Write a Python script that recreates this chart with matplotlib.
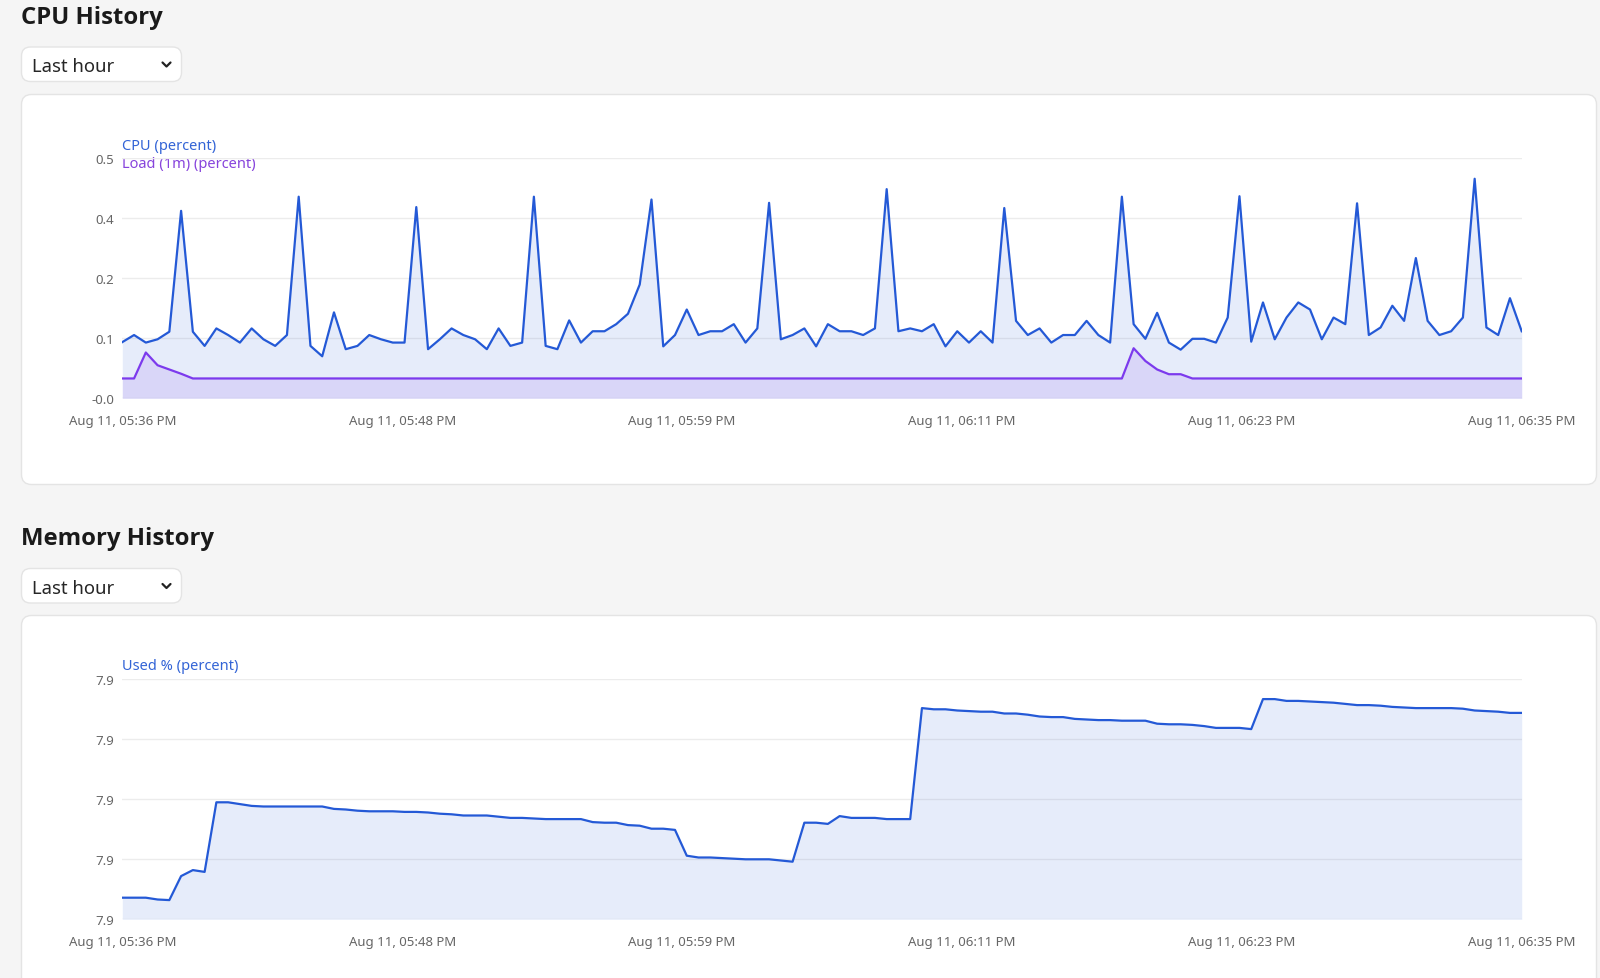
import numpy as np
import matplotlib
matplotlib.use('Agg')
import matplotlib.pyplot as plt
from matplotlib.patches import FancyBboxPatch
from matplotlib.ticker import FormatStrFormatter

plt.rcParams['font.family'] = ['Noto Sans', 'DejaVu Sans']

# ---- data (one sample every ~30 s) ----
time_labels = ['Aug 11, 05:36 PM', 'Aug 11, 05:48 PM', 'Aug 11, 05:59 PM',
               'Aug 11, 06:11 PM', 'Aug 11, 06:23 PM', 'Aug 11, 06:35 PM']

cpu_pct = [
    0.109, 0.124, 0.108, 0.115, 0.131, 0.387, 0.131, 0.101, 0.138, 0.124,
    0.108, 0.138, 0.115, 0.101, 0.124, 0.417, 0.101, 0.079, 0.172, 0.094,
    0.101, 0.124, 0.115, 0.108, 0.108, 0.395, 0.094, 0.115, 0.138, 0.124,
    0.115, 0.094, 0.138, 0.101, 0.108, 0.417, 0.101, 0.094, 0.155, 0.108,
    0.132, 0.132, 0.147, 0.169, 0.231, 0.411, 0.100, 0.124, 0.178, 0.124,
    0.132, 0.132, 0.147, 0.108, 0.138, 0.404, 0.115, 0.124, 0.138, 0.100,
    0.147, 0.132, 0.132, 0.124, 0.138, 0.433, 0.132, 0.138, 0.132, 0.147,
    0.100, 0.132, 0.108, 0.132, 0.108, 0.393, 0.154, 0.124, 0.138, 0.108,
    0.124, 0.124, 0.154, 0.124, 0.108, 0.417, 0.147, 0.116, 0.171, 0.108,
    0.093, 0.116, 0.116, 0.108, 0.161, 0.418, 0.110, 0.193, 0.115, 0.161,
    0.193, 0.178, 0.115, 0.161, 0.147, 0.403, 0.124, 0.140, 0.186, 0.154,
    0.287, 0.154, 0.124, 0.132, 0.161, 0.455, 0.140, 0.124, 0.202, 0.132,
]

load_pct = [
    0.032, 0.032, 0.087, 0.060, 0.051, 0.042, 0.032, 0.032, 0.032, 0.032,
    0.032, 0.032, 0.032, 0.032, 0.032, 0.032, 0.032, 0.032, 0.032, 0.032,
    0.032, 0.032, 0.032, 0.032, 0.032, 0.032, 0.032, 0.032, 0.032, 0.032,
    0.032, 0.032, 0.032, 0.032, 0.032, 0.032, 0.032, 0.032, 0.032, 0.032,
    0.032, 0.032, 0.032, 0.032, 0.032, 0.032, 0.032, 0.032, 0.032, 0.032,
    0.032, 0.032, 0.032, 0.032, 0.032, 0.032, 0.032, 0.032, 0.032, 0.032,
    0.032, 0.032, 0.032, 0.032, 0.032, 0.032, 0.032, 0.032, 0.032, 0.032,
    0.032, 0.032, 0.032, 0.032, 0.032, 0.032, 0.032, 0.032, 0.032, 0.032,
    0.032, 0.032, 0.032, 0.032, 0.032, 0.032, 0.096, 0.069, 0.051, 0.041,
    0.041, 0.032, 0.032, 0.032, 0.032, 0.032, 0.032, 0.032, 0.032, 0.032,
    0.032, 0.032, 0.032, 0.032, 0.032, 0.032, 0.032, 0.032, 0.032, 0.032,
    0.032, 0.032, 0.032, 0.032, 0.032, 0.032, 0.032, 0.032, 0.032, 0.032,
]

mem_used_pct = [
    7.9036, 7.9036, 7.9036, 7.9033, 7.9032, 7.9072, 7.9082, 7.9079, 7.9195, 7.9195,
    7.9192, 7.9189, 7.9188, 7.9188, 7.9188, 7.9188, 7.9188, 7.9188, 7.9184, 7.9183,
    7.9181, 7.9180, 7.9180, 7.9180, 7.9179, 7.9179, 7.9178, 7.9176, 7.9175, 7.9173,
    7.9173, 7.9173, 7.9171, 7.9169, 7.9169, 7.9168, 7.9167, 7.9167, 7.9167, 7.9167,
    7.9162, 7.9161, 7.9161, 7.9157, 7.9156, 7.9151, 7.9151, 7.9149, 7.9106, 7.9103,
    7.9103, 7.9102, 7.9101, 7.9100, 7.9100, 7.9100, 7.9098, 7.9096, 7.9161, 7.9161,
    7.9159, 7.9172, 7.9169, 7.9169, 7.9169, 7.9167, 7.9167, 7.9167, 7.9352, 7.9350,
    7.9350, 7.9348, 7.9347, 7.9346, 7.9346, 7.9343, 7.9343, 7.9341, 7.9338, 7.9337,
    7.9337, 7.9334, 7.9333, 7.9332, 7.9332, 7.9331, 7.9331, 7.9331, 7.9326, 7.9325,
    7.9325, 7.9324, 7.9322, 7.9319, 7.9319, 7.9319, 7.9317, 7.9367, 7.9367, 7.9364,
    7.9364, 7.9363, 7.9362, 7.9361, 7.9359, 7.9357, 7.9357, 7.9356, 7.9354, 7.9353,
    7.9352, 7.9352, 7.9352, 7.9352, 7.9351, 7.9348, 7.9347, 7.9346, 7.9344, 7.9344,
]

cpu_range = (-0.01, 0.5)
mem_range = (7.90, 7.94)

# ---- colours ----
BG = '#f5f5f5'
BLUE = '#2459d6'
PURPLE = '#7c3aed'
TICK = '#666666'
GRID = '#ececec'
TITLE_FONT = ['Open Sans', 'Noto Sans', 'DejaVu Sans']

W, H = 1600, 979
fig = plt.figure(figsize=(W / 100, H / 100), dpi=100, facecolor=BG)

# page layer in pixel coordinates
page = fig.add_axes([0, 0, 1, 1])
page.set_xlim(0, W)
page.set_ylim(H, 0)
page.axis('off')


def card(x, y, w, h, r):
    page.add_patch(FancyBboxPatch((x, y), w, h,
                                  boxstyle='round,pad=0,rounding_size=%d' % r,
                                  fc='white', ec='#e4e4e4', lw=1))


def dropdown(top):
    card(21.5, top, 160, 34.5, 9)
    page.text(32.5, top + 24.5, 'Last hour', fontsize=13.3, color='#262626',
              va='baseline', ha='left')
    cy = top + 17.5
    page.plot([162.5, 166.5, 170.5], [cy - 2, cy + 2, cy - 2], color='#222222',
              lw=1.6, solid_capstyle='round', solid_joinstyle='round')


page.text(21, 24.5, 'CPU History', fontsize=17.2, weight='bold', color='#1a1a1a',
          va='baseline', family=TITLE_FONT)
dropdown(48)
card(21.5, 95.5, 1575, 390, 10)

page.text(21, 545.5, 'Memory History', fontsize=17.2, weight='bold', color='#1a1a1a',
          va='baseline', family=TITLE_FONT)
dropdown(569.5)
card(21.5, 616.5, 1575, 420, 10)


def px_axes(left, top, right, bottom):
    return fig.add_axes([left / W, 1 - bottom / H, (right - left) / W, (bottom - top) / H])


def style(ax, yr):
    x = np.arange(len(cpu_pct))
    ax.set_facecolor('none')
    ax.set_xlim(x[0], x[-1])
    ax.set_ylim(*yr)
    ax.set_yticks(np.linspace(yr[0], yr[1], 5))
    ax.yaxis.set_major_formatter(FormatStrFormatter('%.1f'))
    ax.set_xticks(np.linspace(x[0], x[-1], len(time_labels)))
    ax.set_xticklabels(time_labels)
    for s in ax.spines.values():
        s.set_visible(False)
    ax.tick_params(axis='both', length=0, labelsize=9.5, labelcolor=TICK)
    ax.tick_params(axis='y', pad=6)
    ax.tick_params(axis='x', pad=11.5)
    ax.yaxis.grid(True, color=GRID, lw=1)
    ax.set_axisbelow(True)
    return x


# CPU chart
ax1 = px_axes(122.3, 158.5, 1521.7, 399.3)
x = style(ax1, cpu_range)
ax1.fill_between(x, cpu_pct, cpu_range[0], color=BLUE, alpha=0.11, lw=0)
ax1.fill_between(x, load_pct, cpu_range[0], color=PURPLE, alpha=0.12, lw=0)
ax1.plot(x, load_pct, color=PURPLE, lw=1.6)
ax1.plot(x, cpu_pct, color=BLUE, lw=1.6)
page.text(122.3, 146, 'CPU (percent)', fontsize=10.5, color='#3364d6', va='center')
page.text(122.3, 165, 'Load (1m) (percent)', fontsize=10.5, color='#8744dc', va='center')

# Memory chart
ax2 = px_axes(122.3, 680.3, 1521.7, 920.3)
x = style(ax2, mem_range)
ax2.fill_between(x, mem_used_pct, mem_range[0], color=BLUE, alpha=0.11, lw=0)
ax2.plot(x, mem_used_pct, color=BLUE, lw=1.6)
page.text(122.3, 667, 'Used % (percent)', fontsize=10.5, color='#3364d6', va='center')

fig.savefig('out.png', dpi=100, facecolor=BG)
